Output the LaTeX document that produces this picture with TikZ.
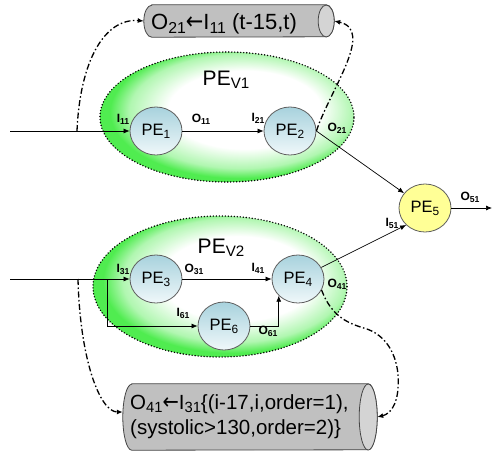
\documentclass[tikz,border=0pt]{standalone}
\usepackage{fontspec}
\setmainfont{Liberation Sans}
\newfontfamily\arrowfont{DejaVu Sans}
\usepackage{graphicx}
\usetikzlibrary{shapes.geometric,arrows.meta,calc}

% lowered subscripts used in all labels
\newcommand\lsub[1]{\raisebox{-0.35ex}{\scalebox{0.72}{#1}}}
\newcommand\psub[1]{\raisebox{-0.3ex}{\scalebox{0.72}{#1}}}
\newcommand\getsarrow{{\arrowfont\scalebox{0.95}[1.1]{←}}}

\definecolor{pegrey}{RGB}{95,95,95}
\definecolor{peblue}{RGB}{168,210,221}
\definecolor{pelight}{RGB}{240,248,250}
\definecolor{peyellow}{RGB}{255,255,150}
\definecolor{glowgreen}{RGB}{80,236,80}
\definecolor{cylgrey}{RGB}{192,192,192}
\definecolor{capgrey}{RGB}{212,212,212}
\definecolor{cylline}{RGB}{70,70,70}

% white core slightly up and to the right, green rim
\pgfdeclareradialshading{glow}{\pgfpoint{5bp}{4bp}}{color(0bp)=(white); color(15bp)=(white); color(22bp)=(glowgreen!45!white); color(25.5bp)=(glowgreen); color(50bp)=(glowgreen)}

\begin{document}
\begin{tikzpicture}[x=1pt, y=-1pt,
  pe/.style={ellipse, draw=pegrey, line width=0.8pt, minimum width=52pt,
    minimum height=48pt, inner sep=0pt, top color=peblue, bottom color=pelight,
    font=\fontsize{16.5}{18}\selectfont},
  peout/.style={pe, top color=peyellow, bottom color=peyellow, fill=peyellow},
  group/.style={ellipse, draw=black, line width=1.6pt, line cap=round,
    dash pattern=on 0pt off 3pt, shading=glow, inner sep=0pt},
  grouplabel/.style={font=\fontsize{21}{24}\selectfont, inner sep=0pt, anchor=base},
  flow/.style={-{Latex[length=6pt,width=5pt]}, line width=0.7pt},
  dd/.style={-{Latex[length=6pt,width=5pt]}, line width=1.3pt,
    dash pattern=on 6pt off 2.5pt on 1.5pt off 2.5pt},
  lab/.style={font=\fontsize{12}{13}\selectfont\bfseries, inner sep=0pt},
  cylbody/.style={fill=cylgrey, draw=cylline, line width=0.8pt},
  cylcap/.style={fill=capgrey, draw=cylline, line width=0.8pt},
  storebox/.style={inner sep=0pt},
  storetext/.style={inner sep=0pt, anchor=base west, align=left}
]
\useasboundingbox (0,0) rectangle (492,455);

% processing-element groups
\node[group, minimum width=254pt, minimum height=130pt] (V1) at (227,117) {};
\node[group, minimum width=254pt, minimum height=141pt] (V2) at (220,286.5) {};
\node[grouplabel] (V1lab) at (226,85) {PE\lsub{V1}};
\node[grouplabel] (V2lab) at (221,253) {PE\lsub{V2}};

% storage cylinders
\node[storebox, minimum width=190pt, minimum height=32pt] (st1) at (239,21) {};
\path[cylbody] ([xshift=8pt]st1.north west) -- ([xshift=-8pt]st1.north east)
  arc[start angle=90, end angle=-90, x radius=8pt, y radius=16pt]
  -- ([xshift=8pt]st1.south west)
  arc[start angle=270, end angle=90, x radius=8pt, y radius=16pt] -- cycle;
\draw[cylcap] ([xshift=-8pt]st1.east) ellipse[x radius=8pt, y radius=16pt];
\node[storetext, font=\fontsize{22}{24}\selectfont] (st1txt) at (151,29)
  {O\lsub{21}\getsarrow I\lsub{11} (t-15,t)};

\node[storebox, minimum width=254pt, minimum height=66pt] (st2) at (250,417) {};
\path[cylbody] ([xshift=9pt]st2.north west) -- ([xshift=-9pt]st2.north east)
  arc[start angle=90, end angle=-90, x radius=9pt, y radius=33pt]
  -- ([xshift=9pt]st2.south west)
  arc[start angle=270, end angle=90, x radius=9pt, y radius=33pt] -- cycle;
\draw[cylcap] ([xshift=-9pt]st2.east) ellipse[x radius=9pt, y radius=33pt];
\node[storetext, font=\fontsize{20.5}{25}\selectfont] (st2txt) at (130,434)
  {O\lsub{41}\getsarrow I\lsub{31}\{(i-17,i,order=1),\\(systolic>130,order=2)\}};

% processing elements
\node[pe] (PE1) at (156,131) {PE\lsub{1}};
\node[pe] (PE2) at (290,131) {PE\lsub{2}};
\node[pe] (PE3) at (156,279) {PE\lsub{3}};
\node[pe] (PE4) at (298,279) {PE\lsub{4}};
\node[pe] (PE6) at (224,326) {PE\lsub{6}};
\node[peout] (PE5) at (425,208) {PE\lsub{5}};

% inputs, outputs and branch points
\coordinate (in1) at (10,131);
\coordinate (in2) at (10,279);
\coordinate (tap1) at (77,131);
\coordinate (tap2) at (78,279);
\coordinate (br) at (107,279);
\coordinate (out) at (492,208);

% data flow
\draw[flow] (in1) -- (PE1);
\draw[flow] (PE1) -- (PE2);
\draw[flow] (PE2.east) -- (PE5);
\draw[flow] (in2) -- (PE3);
\draw[flow] (PE3) -- (PE4);
\draw[flow] (br) |- (PE6.west);
\draw[flow] (PE6.east) -| (PE4.221);
\draw[flow] (PE4) -- (PE5.222);
\draw[flow] (PE5.east) -- (out);

% buffering into the stores
\draw[dd] (tap1) .. controls (80,60) and (105,18) .. (st1.west);
\draw[dd] (PE2.east) .. controls (330,90) and (375,30) .. (st1.east);
\draw[dd] (tap2) .. controls (80,360) and (100,412) .. ([yshift=5pt]st2.west);
\draw[dd] (PE4.-25) .. controls (332,318) and (350,324) .. (367,329)
  .. controls (392,338) and (400,365) .. (398,388)
  .. controls (397,405) and (390,414) .. (st2.east);

% port labels
\node[lab] (I11) at (123,119) {I\psub{11}};
\node[lab] (O11) at (201,119) {O\psub{11}};
\node[lab] (I21) at (258,118) {I\psub{21}};
\node[lab] (O21) at (337,128) {O\psub{21}};
\node[lab] (I31) at (123,269) {I\psub{31}};
\node[lab] (O31) at (194,269) {O\psub{31}};
\node[lab] (I41) at (258,268) {I\psub{41}};
\node[lab] (O41) at (337,284) {O\psub{41}};
\node[lab] (I61) at (183,313) {I\psub{61}};
\node[lab] (O61) at (268,331) {O\psub{61}};
\node[lab] (I51) at (392,223) {I\psub{51}};
\node[lab] (O51) at (470,197) {O\psub{51}};
\end{tikzpicture}
\end{document}
